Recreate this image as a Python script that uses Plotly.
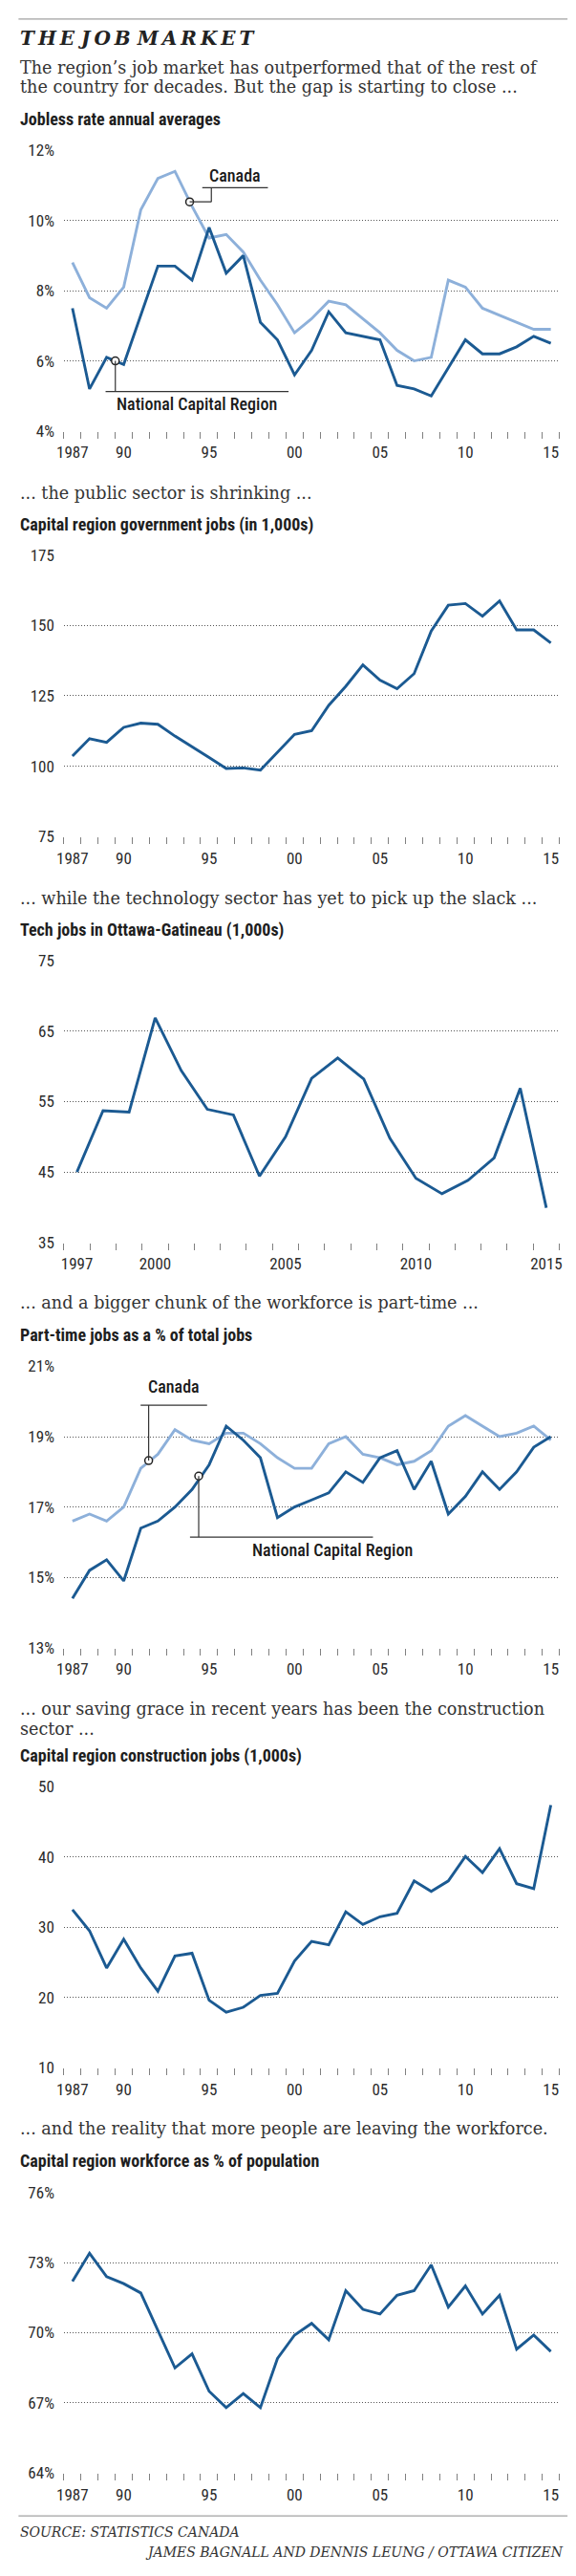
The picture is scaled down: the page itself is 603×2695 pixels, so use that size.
import numpy as np
import plotly.graph_objects as go

W, H = 603, 2695

# ---------------- data ----------------
years = list(range(1987, 2016))
tech_years = list(range(1997, 2016))

jobless_canada = [8.8, 7.8, 7.5, 8.1, 10.3, 11.2, 11.4, 10.4, 9.5, 9.6, 9.1, 8.3, 7.6, 6.8,
                  7.2, 7.7, 7.6, 7.2, 6.8, 6.3, 6.0, 6.1, 8.3, 8.1, 7.5, 7.3, 7.1, 6.9, 6.9]
jobless_ncr = [7.5, 5.2, 6.1, 5.9, 7.3, 8.7, 8.7, 8.3, 9.8, 8.5, 9.0, 7.1, 6.6, 5.6,
               6.3, 7.4, 6.8, 6.7, 6.6, 5.3, 5.2, 5.0, 5.8, 6.6, 6.2, 6.2, 6.4, 6.7, 6.5]

gov_jobs = [103.6, 109.8, 108.5, 113.8, 115.3, 114.9, 110.7, 107.0, 103.1, 99.2, 99.4, 98.6,
            105.0, 111.3, 112.6, 121.6, 128.4, 136.0, 130.6, 127.5, 132.9, 148.0, 157.2,
            157.8, 153.3, 158.7, 148.4, 148.4, 143.8]

tech_jobs = [45.0, 53.7, 53.5, 66.9, 59.4, 53.9, 53.1, 44.4, 50.0, 58.3, 61.2, 58.2, 49.8,
             44.1, 41.9, 43.8, 47.0, 56.9, 39.9]

parttime_canada = [16.6, 16.8, 16.6, 17.0, 18.1, 18.5, 19.2, 18.9, 18.8, 19.1, 19.1, 18.8,
                   18.4, 18.1, 18.1, 18.8, 19.0, 18.5, 18.4, 18.2, 18.3, 18.6, 19.3, 19.6,
                   19.3, 19.0, 19.1, 19.3, 18.9]
parttime_ncr = [14.4, 15.2, 15.5, 14.9, 16.4, 16.6, 17.0, 17.5, 18.2, 19.3, 18.9, 18.4, 16.7,
                17.0, 17.2, 17.4, 18.0, 17.7, 18.4, 18.6, 17.5, 18.3, 16.8, 17.3, 18.0, 17.5,
                18.0, 18.7, 19.0]

construction_jobs = [32.5, 29.5, 24.2, 28.3, 24.2, 20.9, 25.9, 26.3, 19.6, 17.9, 18.6, 20.3,
                     20.6, 25.2, 28.0, 27.5, 32.2, 30.4, 31.5, 32.0, 36.6, 35.1, 36.6, 40.1,
                     37.8, 41.2, 36.2, 35.5, 47.4]

workforce_pct = [72.2, 73.4, 72.4, 72.1, 71.7, 70.1, 68.5, 69.1, 67.5, 66.8, 67.4, 66.8,
                 68.9, 69.9, 70.4, 69.7, 71.8, 71.0, 70.8, 71.6, 71.8, 72.9, 71.1, 72.0,
                 70.8, 71.6, 69.3, 69.9, 69.2]

short_tickvals = [1987, 1990, 1995, 2000, 2005, 2010, 2015]
short_ticktext = ["1987", "90", "95", "00", "05", "10", "15"]
tech_tickvals = [1997, 2000, 2005, 2010, 2015]
tech_ticktext = ["1997", "2000", "2005", "2010", "2015"]

y1_ticks = [4, 6, 8, 10, 12]
y2_ticks = [75, 100, 125, 150, 175]
y3_ticks = [35, 45, 55, 65, 75]
y4_ticks = [13, 15, 17, 19, 21]
y5_ticks = [10, 20, 30, 40, 50]
y6_ticks = [64, 67, 70, 73, 76]

# ---------------- style ----------------
DARK = "#1b5a92"
LIGHT = "#8db0da"
COND = "'Liberation Sans Narrow', 'Roboto Condensed', 'DejaVu Sans Condensed', Roboto, sans-serif"
SERIF = "'DejaVu Serif', serif"
TXT = "#2b2b2b"


def py(p):
    return 1 - p / H


def px_(p):
    return p / W


X0, X1 = 60, 588.3
# (top px, bottom px) of each chart's plotting area
domains = [(148.3, 444.3), (575.0, 871.7), (1002.7, 1299.3),
           (1430.0, 1726.7), (1873.3, 2169.3), (2300.7, 2596.7)]

fig = go.Figure()

charts = [
    dict(series=[(years, jobless_canada, LIGHT), (years, jobless_ncr, DARK)],
         yt=y1_ticks, pct=True, xr=[1986.5, 2015.5], xt=(short_tickvals, short_ticktext)),
    dict(series=[(years, gov_jobs, DARK)],
         yt=y2_ticks, pct=False, xr=[1986.5, 2015.5], xt=(short_tickvals, short_ticktext)),
    dict(series=[(tech_years, tech_jobs, DARK)],
         yt=y3_ticks, pct=False, xr=[1996.5, 2015.5], xt=(tech_tickvals, tech_ticktext)),
    dict(series=[(years, parttime_canada, LIGHT), (years, parttime_ncr, DARK)],
         yt=y4_ticks, pct=True, xr=[1986.5, 2015.5], xt=(short_tickvals, short_ticktext)),
    dict(series=[(years, construction_jobs, DARK)],
         yt=y5_ticks, pct=False, xr=[1986.5, 2015.5], xt=(short_tickvals, short_ticktext)),
    dict(series=[(years, workforce_pct, DARK)],
         yt=y6_ticks, pct=True, xr=[1986.5, 2015.5], xt=(short_tickvals, short_ticktext)),
]

TICKFONT = dict(family=COND, size=17, color=TXT)

layout_axes = {}
for i, c in enumerate(charts):
    n = "" if i == 0 else str(i + 1)
    xa, ya = "x" + n, "y" + n
    for xs, ys, col in c["series"]:
        fig.add_trace(go.Scatter(x=xs, y=ys, mode="lines", xaxis=xa, yaxis=ya,
                                 line=dict(color=col, width=2.9), hoverinfo="skip",
                                 showlegend=False))
    top, bot = domains[i]
    half = list(np.arange(c["xr"][0], c["xr"][1] + 0.01, 1.0))
    layout_axes["xaxis" + n] = dict(
        domain=[px_(X0), px_(X1)], range=c["xr"], anchor=ya,
        tickmode="array", tickvals=c["xt"][0], ticktext=c["xt"][1],
        ticks="outside", ticklen=7, tickcolor="rgba(0,0,0,0)",
        minor=dict(tickmode="array", tickvals=half, ticks="outside", ticklen=7,
                   tickcolor="#808080", tickwidth=1, showgrid=False),
        showgrid=False, zeroline=False, showline=False,
        tickfont=TICKFONT,
    )
    yt = c["yt"]
    layout_axes["yaxis" + n] = dict(
        domain=[py(bot), py(top)], range=[yt[0], yt[-1]], anchor=xa,
        tickmode="array", tickvals=yt,
        ticktext=[(f"{v}%" if c["pct"] else f"{v}") for v in yt],
        showgrid=True, gridcolor="#555555", gridwidth=1, griddash="1px,2px",
        zeroline=False, showline=False, ticks="", ticklabelstandoff=9,
        tickfont=TICKFONT,
    )

# ---------- leader-line callouts (chart 1 and chart 4) ----------
LEAD = "#333333"
shapes = []
annotations = []


def seg(xref, yref, x0, y0, x1, y1):
    shapes.append(dict(type="line", xref=xref, yref=yref, x0=x0, y0=y0, x1=x1, y1=y1,
                       line=dict(color=LEAD, width=1.2), layer="above"))


# chart 1 - Canada
seg("x", "y", 1993.86, 10.53, 1995.13, 10.53)
seg("x", "y", 1995.13, 10.53, 1995.13, 10.935)
seg("x", "y", 1994.6, 10.935, 1998.44, 10.935)
# chart 1 - NCR
seg("x", "y", 1989.51, 6.0, 1989.51, 5.124)
seg("x", "y", 1988.94, 5.124, 1999.65, 5.124)
# chart 4 - Canada
seg("x4", "y4", 1991.46, 18.32, 1991.46, 19.895)
seg("x4", "y4", 1990.99, 19.895, 1994.88, 19.895)
# chart 4 - NCR
seg("x4", "y4", 1994.39, 17.88, 1994.39, 16.147)
seg("x4", "y4", 1993.88, 16.147, 2004.59, 16.147)

for xa, ya, xs, ys in [("x", "y", [1993.86, 1989.51], [10.53, 6.0]),
                       ("x4", "y4", [1991.46, 1994.39], [18.32, 17.88])]:
    fig.add_trace(go.Scatter(x=xs, y=ys, mode="markers", xaxis=xa, yaxis=ya,
                             marker=dict(size=8, color="white",
                                         line=dict(color="#222222", width=1.5)),
                             hoverinfo="skip", showlegend=False, cliponaxis=False))

lab_font = dict(family=COND, size=18, color="#1a1a1a", weight=500)
annotations += [
    dict(xref="x", yref="y", x=1996.52, y=11.28, text="Canada", showarrow=False,
         font=lab_font, xanchor="center", yanchor="middle"),
    dict(xref="x", yref="y", x=1994.29, y=4.765, text="National Capital Region",
         showarrow=False, font=lab_font, xanchor="center", yanchor="middle"),
    dict(xref="x4", yref="y4", x=1992.91, y=20.415, text="Canada", showarrow=False,
         font=lab_font, xanchor="center", yanchor="middle"),
    dict(xref="x4", yref="y4", x=2002.22, y=15.79, text="National Capital Region",
         showarrow=False, font=lab_font, xanchor="center", yanchor="middle"),
]

# ---------- text blocks ----------
def text(ypx, s, font, x=11.6, anchor="left"):
    annotations.append(dict(xref="paper", yref="paper", x=px_(x), y=py(ypx), text=s,
                            showarrow=False, xanchor=anchor, yanchor="middle",
                            font=font, align=anchor))


TS = "\u2009"
title_txt = " ".join(TS.join(w) for w in ["THE", "JOB", "MARKET"])
text(30, f"<b><i>{title_txt}</i></b>", dict(family=SERIF, size=20, color="#222222"))

body = dict(family=SERIF, size=17.6, color="#333333")
head = dict(family=COND, size=18, color="#1e1e1e", weight="bold")

text(61.7, "The region’s job market has outperformed that of the rest of", body)
text(81.7, "the country for decades. But the gap is starting to close ...", body)
text(115, "Jobless rate annual averages", head)
text(510, "... the public sector is shrinking ...", body)
text(543.3, "Capital region government jobs (in 1,000s)", head)
text(936.7, "... while the technology sector has yet to pick up the slack ...", body)
text(970, "Tech jobs in Ottawa-Gatineau (1,000s)", head)
text(1363.3, "... and a bigger chunk of the workforce is part-time ...", body)
text(1397.3, "Part-time jobs as a % of total jobs", head)
text(1791.7, "... our saving grace in recent years has been the construction", body)
text(1812.7, "sector ...", body)
text(1840.7, "Capital region construction jobs (1,000s)", head)
text(2233.3, "... and the reality that more people are leaving the workforce.", body)
text(2267.3, "Capital region workforce as % of population", head)

foot = dict(family=SERIF, size=14, color="#333333", style="italic")
text(2658.3, "SOURCE: STATISTICS CANADA", foot)
text(2680, "JAMES BAGNALL AND DENNIS LEUNG / OTTAWA CITIZEN", foot, x=595, anchor="right")

for ypx in (10, 2641.7):
    shapes.append(dict(type="line", xref="paper", yref="paper", x0=px_(11.6), x1=px_(597),
                       y0=py(ypx), y1=py(ypx), line=dict(color="#8a8a8a", width=1)))

fig.update_layout(
    width=W, height=H, margin=dict(l=0, r=0, t=0, b=0),
    paper_bgcolor="white", plot_bgcolor="white",
    showlegend=False, shapes=shapes, annotations=annotations,
    **layout_axes,
)

fig.write_html("out.html")
